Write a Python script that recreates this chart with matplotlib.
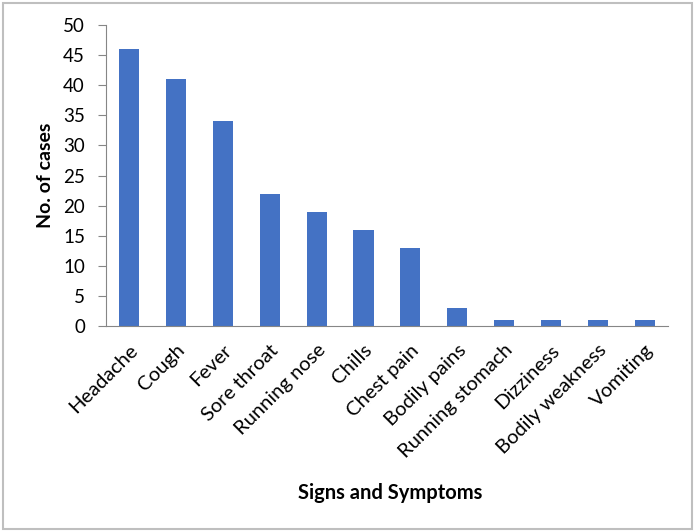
import matplotlib.pyplot as plt
import numpy as np
from matplotlib.patches import Rectangle

# data
symptoms = ['Headache', 'Cough', 'Fever', 'Sore throat', 'Running nose', 'Chills',
            'Chest pain', 'Bodily pains', 'Running stomach', 'Dizziness',
            'Bodily weakness', 'Vomiting']
cases = [46, 41, 34, 22, 19, 16, 13, 3, 1, 1, 1, 1]
yticks = [0, 5, 10, 15, 20, 25, 30, 35, 40, 45, 50]

plt.rcParams['font.family'] = ['Lato', 'DejaVu Sans']

fig = plt.figure(figsize=(6.96, 5.32), dpi=100)
ax = fig.add_axes([0.152, 0.387, 0.808, 0.566])

x = np.arange(len(symptoms))
ax.bar(x, cases, width=0.43, color='#4472C4')

ax.set_xlim(-0.5, len(symptoms) - 0.5)
ax.set_ylim(0, 50)
ax.set_yticks(yticks)
ax.set_xticks(x)
ax.set_xticklabels(symptoms, rotation=45, ha='right', rotation_mode='anchor', fontsize=14.5)
ax.tick_params(axis='y', labelsize=13.5, length=6, color='#868686', pad=9)
ax.tick_params(axis='x', length=0, pad=11)

for s in ['top', 'right']:
    ax.spines[s].set_visible(False)
for s in ['left', 'bottom']:
    ax.spines[s].set_color('#868686')

fig.text(0.065, 0.67, 'No. of cases', fontsize=14, fontweight='bold', rotation=90,
         ha='center', va='center')
fig.text(0.56, 0.073, 'Signs and Symptoms', fontsize=14.5, fontweight='bold', ha='center', va='center')

# chart area border
fig.patches.append(Rectangle((0.004, 0.005), 0.99, 0.99, transform=fig.transFigure,
                             fill=False, edgecolor='#BFBFBF', linewidth=1.5))

plt.savefig('out.png', dpi=100)
